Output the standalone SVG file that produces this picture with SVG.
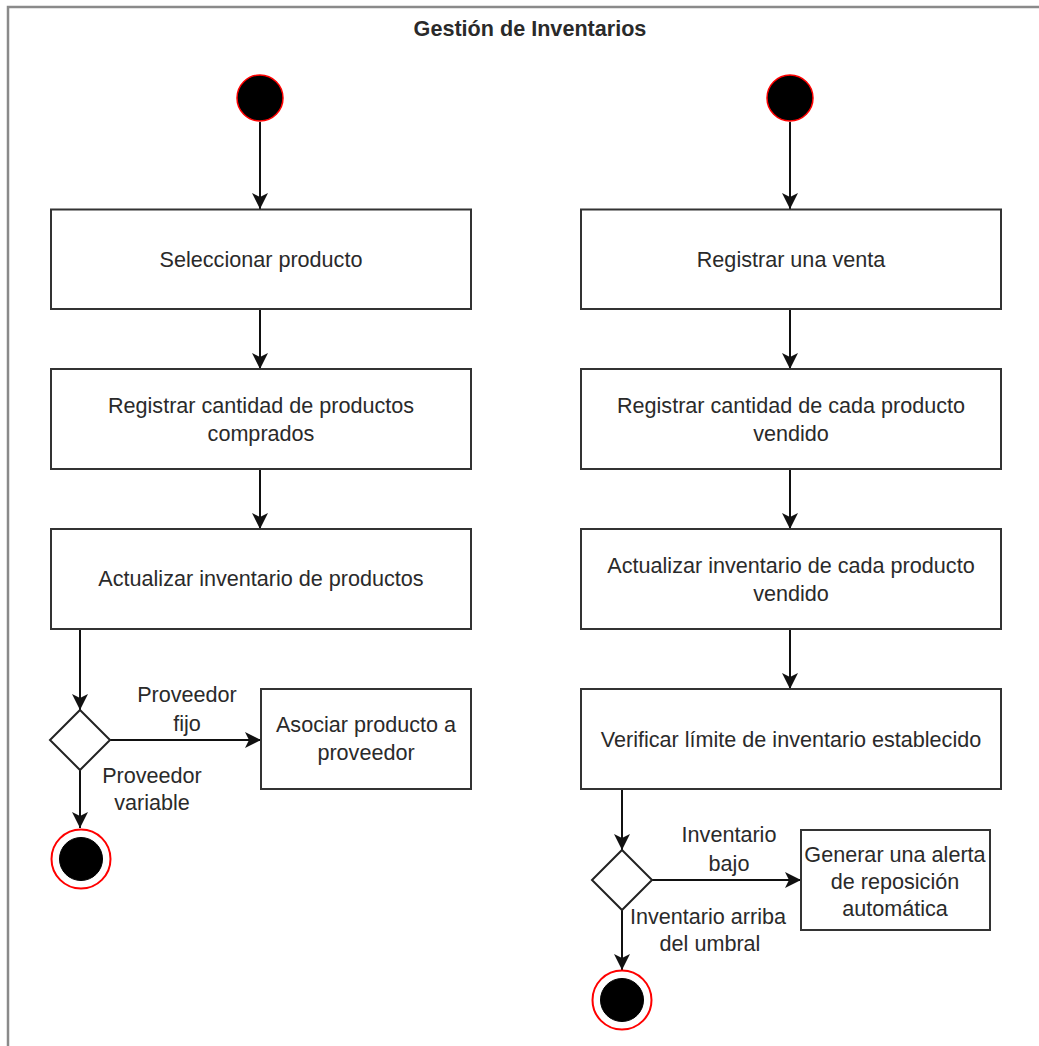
<svg xmlns="http://www.w3.org/2000/svg" width="1039" height="1046" viewBox="0 0 1039 1046">
  <style>
    .frame { fill: #ffffff; stroke: #8a8a8a; stroke-width: 2.5; }
    .box { fill: #ffffff; stroke: #333333; stroke-width: 2; }
    .dec { fill: #ffffff; stroke: #222222; stroke-width: 2; }
    .start { fill: #000000; stroke: #ff0000; stroke-width: 1.5; }
    .endring { fill: #ffffff; stroke: #ff0000; stroke-width: 2; }
    .endcore { fill: #000000; stroke: #000000; }
    .edge { fill: none; stroke: #111111; stroke-width: 2; }
    text { font-family: "Liberation Sans", Arial, sans-serif; font-size: 21.6px; fill: #2a2a2a; text-anchor: middle; }
    .title { font-weight: bold; }
  </style>
  <defs>
    <marker id="ah" viewBox="0 0 16 16" refX="16" refY="8" markerWidth="16" markerHeight="16" markerUnits="userSpaceOnUse" orient="auto">
      <path d="M0,0 L16,8 L0,16 L4,8 Z" fill="#111111"/>
    </marker>
  </defs>

  <!-- outer frame -->
  <rect class="frame" x="8" y="7" width="1040" height="1050"/>
  <text class="title" x="530" y="36">Gestión de Inventarios</text>

  <!-- connectors -->
  <g id="connectors">
    <path class="edge" d="M260,122 V209" marker-end="url(#ah)"/>
    <path class="edge" d="M260,309 V369" marker-end="url(#ah)"/>
    <path class="edge" d="M260,469 V529" marker-end="url(#ah)"/>
    <path class="edge" d="M80,629 V710" marker-end="url(#ah)"/>
    <path class="edge" d="M110,740 H261" marker-end="url(#ah)"/>
    <path class="edge" d="M80,770 V828" marker-end="url(#ah)"/>

    <path class="edge" d="M790,122 V209" marker-end="url(#ah)"/>
    <path class="edge" d="M790,309 V369" marker-end="url(#ah)"/>
    <path class="edge" d="M790,469 V529" marker-end="url(#ah)"/>
    <path class="edge" d="M790,629 V689" marker-end="url(#ah)"/>
    <path class="edge" d="M622,789 V850" marker-end="url(#ah)"/>
    <path class="edge" d="M652,880 H801" marker-end="url(#ah)"/>
    <path class="edge" d="M622,910 V970" marker-end="url(#ah)"/>
  </g>

  <!-- connector labels -->
  <g id="labels">
    <text x="187" y="702">Proveedor</text>
    <text x="187" y="731">fijo</text>
    <text x="152" y="783">Proveedor</text>
    <text x="152" y="810">variable</text>
    <text x="729" y="842">Inventario</text>
    <text x="729" y="871">bajo</text>
    <text x="708" y="924">Inventario arriba</text>
    <text x="710" y="951">del umbral</text>
  </g>

  <!-- left flow -->
  <g id="start-left"><circle class="start" cx="260" cy="98" r="23"/></g>
  <g id="seleccionar">
    <rect class="box" x="51" y="209.5" width="420" height="99.5"/>
    <text x="261" y="267">Seleccionar producto</text>
  </g>
  <g id="registrar-compra">
    <rect class="box" x="51" y="369" width="420" height="100"/>
    <text x="261" y="413">Registrar cantidad de productos</text>
    <text x="261" y="441">comprados</text>
  </g>
  <g id="actualizar-compra">
    <rect class="box" x="51" y="529" width="420" height="100"/>
    <text x="261" y="586">Actualizar inventario de productos</text>
  </g>
  <g id="decision-proveedor"><path class="dec" d="M80,710 L110,740 L80,770 L50,740 Z"/></g>
  <g id="asociar">
    <rect class="box" x="261" y="689" width="210" height="100"/>
    <text x="366" y="732">Asociar producto a</text>
    <text x="366" y="760">proveedor</text>
  </g>
  <g id="end-left">
    <circle class="endring" cx="81" cy="859" r="29.5"/>
    <circle class="endcore" cx="81" cy="859" r="21.5"/>
  </g>

  <!-- right flow -->
  <g id="start-right"><circle class="start" cx="790" cy="98" r="23"/></g>
  <g id="registrar-venta">
    <rect class="box" x="581" y="209.5" width="420" height="99.5"/>
    <text x="791" y="267">Registrar una venta</text>
  </g>
  <g id="registrar-vendido">
    <rect class="box" x="581" y="369" width="420" height="100"/>
    <text x="791" y="413">Registrar cantidad de cada producto</text>
    <text x="791" y="441">vendido</text>
  </g>
  <g id="actualizar-venta">
    <rect class="box" x="581" y="529" width="420" height="100"/>
    <text x="791" y="573">Actualizar inventario de cada producto</text>
    <text x="791" y="601">vendido</text>
  </g>
  <g id="verificar">
    <rect class="box" x="581" y="689" width="420" height="100"/>
    <text x="791" y="747">Verificar límite de inventario establecido</text>
  </g>
  <g id="decision-inventario"><path class="dec" d="M622,850 L652,880 L622,910 L592,880 Z"/></g>
  <g id="alerta">
    <rect class="box" x="801" y="830" width="189" height="100"/>
    <text x="895" y="862">Generar una alerta</text>
    <text x="895" y="889">de reposición</text>
    <text x="895" y="916">automática</text>
  </g>
  <g id="end-right">
    <circle class="endring" cx="622" cy="1000" r="29.5"/>
    <circle class="endcore" cx="622" cy="1000" r="21.5"/>
  </g>
</svg>
